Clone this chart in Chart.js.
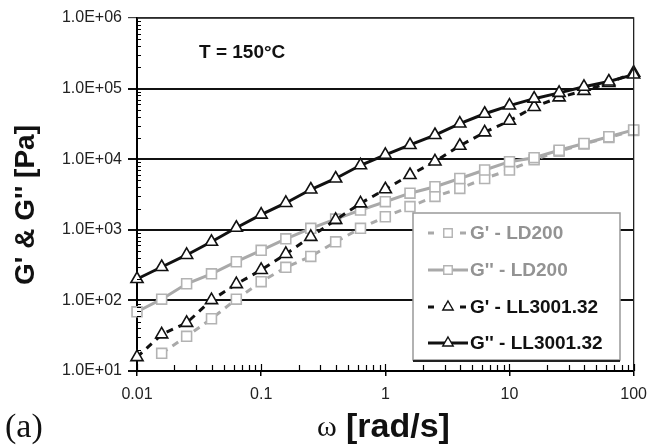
<!DOCTYPE html>
<html>
<head>
<meta charset="utf-8">
<script src="https://cdn.jsdelivr.net/npm/chart.js@4.4.1/dist/chart.umd.min.js"></script>
<style>
  html, body { margin: 0; padding: 0; background: #fff; }
  #wrap { width: 656px; height: 445px; }
</style>
</head>
<body>
<div id="wrap"><canvas id="chart" width="656" height="445"></canvas></div>
<script>
// data
const omega = [0.01, 0.0158, 0.0251, 0.0398, 0.0631, 0.1, 0.158, 0.251, 0.398, 0.631,
  1, 1.58, 2.51, 3.98, 6.31, 10, 15.8, 25.1, 39.8, 63.1, 100];
const gpLD = [null, 17.8, 31, 55, 104, 184, 294, 420, 676, 1050,
  1530, 2130, 2970, 3850, 5330, 7030, 9800, 13000, 16400, 20300, 25500];
const gppLD = [69, 104, 172, 238, 353, 512, 745, 1050, 1420, 1900,
  2500, 3300, 4070, 5330, 7030, 9220, 10500, 13400, 16700, 20800, 26000];
const gpLL = [15.7, 33, 48, 101, 170, 270, 455, 795, 1380, 2370,
  3750, 5970, 9300, 15500, 24000, 35000, 55000, 75000, 93000, 120000, 168000];
const gppLL = [201, 297, 440, 676, 1070, 1640, 2400, 3720, 5330, 8200,
  11500, 15900, 22000, 32000, 44000, 57500, 72000, 87000, 106000, 126000, 158000];

const seriesNames = ["G' - LD200", "G'' - LD200", "G' - LL3001.32", "G'' - LL3001.32"];
const xTicks = [0.01, 0.1, 1, 10, 100];
const xTickLabels = ['0.01', '0.1', '1', '10', '100'];
const yTicks = [1e1, 1e2, 1e3, 1e4, 1e5, 1e6];
const yTickLabels = ['1.0E+01', '1.0E+02', '1.0E+03', '1.0E+04', '1.0E+05', '1.0E+06'];

const GRAY = '#a9a9a9';
const BLACK = '#111';

const toPoints = vals => omega.map((w, i) => ({ x: w, y: vals[i] }));

const series = [
  { name: seriesNames[3], vals: gppLL, color: BLACK, dash: [], shape: 'triangle', order: 0 },
  { name: seriesNames[2], vals: gpLL, color: BLACK, dash: [7, 6], shape: 'triangle', order: 1 },
  { name: seriesNames[1], vals: gppLD, color: GRAY, dash: [], shape: 'rect', order: 2 },
  { name: seriesNames[0], vals: gpLD, color: GRAY, dash: [7, 6], shape: 'rect', order: 3 },
];

const datasets = series.map(s => ({
  label: s.name,
  data: toPoints(s.vals),
  borderColor: s.color,
  borderWidth: 3,
  borderDash: s.dash,
  pointStyle: s.shape,
  pointRadius: 7,
  pointBorderWidth: 1.6,
  pointBorderColor: s.color === GRAY ? '#b3b3b3' : BLACK,
  pointBackgroundColor: '#fff',
  tension: 0,
  clip: false,
  order: s.order,
}));

// axes extras, legend and free texts
const extras = {
  id: 'extras',
  afterDatasetsDraw(chart) {
    const { ctx, chartArea: a, scales: { x, y } } = chart;
    ctx.save();

    // right and top frame
    ctx.strokeStyle = '#222';
    ctx.lineWidth = 1.3;
    ctx.beginPath();
    ctx.moveTo(a.left, a.top);
    ctx.lineTo(a.right, a.top);
    ctx.lineTo(a.right, a.bottom);
    ctx.stroke();

    // minor ticks
    ctx.strokeStyle = '#000';
    ctx.lineWidth = 1.2;
    ctx.beginPath();
    for (let d = 0.01; d < 100; d *= 10) {
      for (let k = 2; k < 10; k++) {
        const px = Math.round(x.getPixelForValue(d * k)) + 0.5;
        ctx.moveTo(px, a.bottom);
        ctx.lineTo(px, a.bottom - 6);
      }
    }
    xTicks.forEach(v => {
      const px = Math.round(x.getPixelForValue(v)) + 0.5;
      ctx.moveTo(px, a.bottom);
      ctx.lineTo(px, a.bottom - 7);
    });
    for (let d = 10; d < 1e6; d *= 10) {
      for (let k = 2; k < 10; k++) {
        const py = Math.round(y.getPixelForValue(d * k)) + 0.5;
        ctx.moveTo(a.left, py);
        ctx.lineTo(a.left + 4, py);
      }
    }
    ctx.stroke();

    // legend
    const lx = 413, ly = 213, lw = 207, lh = 147;
    ctx.fillStyle = '#fff';
    ctx.fillRect(lx, ly, lw, lh);
    ctx.strokeStyle = '#999';
    ctx.lineWidth = 1.5;
    ctx.strokeRect(lx, ly, lw, lh);
    ctx.strokeStyle = '#222';
    ctx.lineWidth = 2;
    ctx.beginPath();
    ctx.moveTo(lx, ly + lh + 1);
    ctx.lineTo(lx + lw, ly + lh + 1);
    ctx.stroke();

    const order = [series[3], series[2], series[1], series[0]];
    const rowY = [233, 270, 307, 343];
    ctx.font = 'bold 19px "Liberation Sans", Arial, sans-serif';
    ctx.textBaseline = 'middle';
    order.forEach((s, i) => {
      const cy = rowY[i];
      ctx.strokeStyle = s.color;
      ctx.lineWidth = 3;
      ctx.setLineDash(s.dash.length ? [6, 10] : []);
      ctx.beginPath();
      ctx.moveTo(428, cy);
      ctx.lineTo(468, cy);
      ctx.stroke();
      ctx.setLineDash([]);
      ctx.fillStyle = '#fff';
      ctx.strokeStyle = s.color === GRAY ? '#b3b3b3' : BLACK;
      ctx.lineWidth = 1.4;
      Chart.helpers.drawPoint(ctx, { pointStyle: s.shape, radius: 6, borderWidth: 1.4 }, 448, cy);
      ctx.fillStyle = s.color === GRAY ? '#939393' : BLACK;
      ctx.textAlign = 'left';
      ctx.fillText(s.name, 470, cy + 1);
    });

    // annotation
    ctx.fillStyle = '#111';
    ctx.font = 'bold 19px "Liberation Sans", Arial, sans-serif';
    ctx.textAlign = 'left';
    ctx.textBaseline = 'alphabetic';
    ctx.fillText('T = 150°C', 199, 58);

    // y title
    ctx.save();
    ctx.translate(34, 205);
    ctx.rotate(-Math.PI / 2);
    ctx.textAlign = 'center';
    ctx.font = 'bold 28px "Liberation Sans", Arial, sans-serif';
    ctx.fillText("G' & G'' [Pa]", 0, 0);
    ctx.restore();

    // x title
    ctx.textAlign = 'left';
    ctx.font = '30px "Liberation Serif", "Times New Roman", serif';
    ctx.fillText('ω', 317, 436);
    ctx.font = 'bold 34px "Liberation Sans", Arial, sans-serif';
    ctx.fillText('[rad/s]', 346, 437);

    // panel label
    ctx.font = '34px "Liberation Serif", "Times New Roman", serif';
    ctx.fillText('(a)', 5, 437);

    ctx.restore();
  }
};

new Chart(document.getElementById('chart'), {
  type: 'line',
  data: { datasets },
  options: {
    responsive: false,
    animation: false,
    devicePixelRatio: 1,
    events: [],
    layout: { padding: { top: 18, right: 15, left: 0, bottom: 0 } },
    plugins: { legend: { display: false }, tooltip: { enabled: false } },
    scales: {
      x: {
        type: 'logarithmic',
        min: 0.01,
        max: 100,
        afterBuildTicks: s => { s.ticks = xTicks.map(v => ({ value: v })); },
        afterFit: s => { s.height = 74; },
        ticks: {
          callback: (v, i) => xTickLabels[i],
          autoSkip: false,
          maxRotation: 0,
          padding: 9,
          color: '#222',
          font: { family: '"Liberation Sans", Arial, sans-serif', size: 16 },
        },
        grid: { drawOnChartArea: false, drawTicks: true, tickLength: 5, color: '#000', lineWidth: 1.5 },
        border: { color: '#000', width: 2 },
      },
      y: {
        type: 'logarithmic',
        min: 10,
        max: 1e6,
        afterBuildTicks: s => { s.ticks = yTicks.map(v => ({ value: v })); },
        afterFit: s => { s.width = 137; },
        ticks: {
          callback: (v, i) => yTickLabels[i],
          autoSkip: false,
          padding: 6,
          color: '#222',
          font: { family: '"Liberation Sans", Arial, sans-serif', size: 16 },
        },
        grid: {
          color: c => (c.tick && c.tick.value === 1e6 ? '#444' : '#111'),
          lineWidth: c => (c.tick && c.tick.value === 1e6 ? 1.2 : 2),
          drawTicks: true,
          tickLength: 9,
        },
        border: { color: '#000', width: 2 },
      },
    },
  },
  plugins: [extras],
});
</script>
</body>
</html>
